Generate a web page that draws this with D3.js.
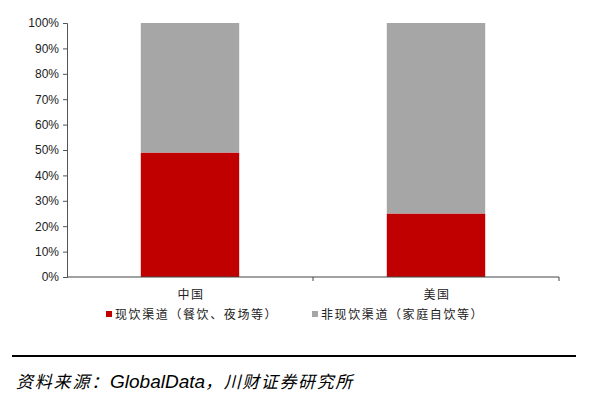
<!DOCTYPE html>
<html>
<head>
<meta charset="utf-8">
<script src="https://cdn.jsdelivr.net/npm/d3@7"></script>
<style>
  body { margin: 0; background: #fff; }
  svg { display: block; }
</style>
</head>
<body>
<svg id="chart"></svg>
<script>
const WIDTH = 592,
    HEIGHT = 396;

const categories = ['中国', '美国'];
const seriesNames = ['现饮渠道（餐饮、夜场等）', '非现饮渠道（家庭自饮等）'];
const onPremise = [0.49, 0.25];
const offPremise = [0.51, 0.75];
const yTicks = [0, 0.1, 0.2, 0.3, 0.4, 0.5, 0.6, 0.7, 0.8, 0.9, 1.0];
const colors = ['#C00000', '#A6A6A6'];

const margin = { left: 67, right: 33, top: 23, bottom: 119 };

const svg = d3.select('svg#chart')
    .attr('width', WIDTH)
    .attr('height', HEIGHT);

const x = d3.scaleBand()
    .domain(categories)
    .range([margin.left, WIDTH - margin.right])
    .paddingInner(0)
    .paddingOuter(0);

const y = d3.scaleLinear()
    .domain([0, 1])
    .range([HEIGHT - margin.bottom, margin.top]);

const rows = categories.map((c, i) => ({ cat: c, values: [onPremise[i], offPremise[i]] }));
const stacked = d3.stack()
    .keys([0, 1])
    .value((d, k) => d.values[k])(rows);

const barW = x.bandwidth() * 0.4;

svg.append('g')
    .selectAll('g')
    .data(stacked)
    .enter().append('g')
        .attr('fill', (d, i) => colors[i])
    .selectAll('rect')
    .data(d => d)
    .enter().append('rect')
        .attr('x', d => x(d.data.cat) + (x.bandwidth() - barW) / 2)
        .attr('y', d => y(d[1]))
        .attr('width', barW)
        .attr('height', d => y(d[0]) - y(d[1]));

// y axis
const yAxis = svg.append('g')
    .attr('transform', `translate(${margin.left},0)`)
    .call(d3.axisLeft(y).tickValues(yTicks).tickFormat(d3.format('.0%')).tickSizeOuter(0).tickSize(4));
yAxis.selectAll('text')
    .attr('font-family', 'Liberation Sans, Arial, sans-serif')
    .attr('font-size', 12)
    .attr('fill', '#222')
    .attr('x', -8);
yAxis.selectAll('line, path').attr('stroke', '#555');

// x axis
const xAxis = svg.append('g')
    .attr('transform', `translate(0,${y(0)})`);
xAxis.append('line')
    .attr('x1', margin.left).attr('x2', WIDTH - margin.right)
    .attr('stroke', '#444');
xAxis.selectAll('.tk')
    .data([categories[1], null])
    .enter().append('line')
        .attr('x1', d => d ? x(d) : WIDTH - margin.right)
        .attr('x2', d => d ? x(d) : WIDTH - margin.right)
        .attr('y1', 0).attr('y2', 4)
        .attr('stroke', '#444');
xAxis.selectAll('text')
    .data(categories)
    .enter().append('text')
        .attr('x', d => x(d) + x.bandwidth() / 2 + 1)
        .attr('y', 22)
        .attr('text-anchor', 'middle')
        .attr('font-family', 'Noto Sans CJK SC, sans-serif')
        .attr('font-size', 12)
        .attr('letter-spacing', 1.6)
        .attr('fill', '#222')
        .text(d => d);

// legend
const legendX = [106, 312];
const legend = svg.append('g')
    .selectAll('g')
    .data(seriesNames)
    .enter().append('g')
        .attr('transform', (d, i) => `translate(${legendX[i]},315)`);
legend.append('rect')
    .attr('x', 0).attr('y', -4)
    .attr('width', 6).attr('height', 6)
    .attr('fill', (d, i) => colors[i]);
legend.append('text')
    .attr('x', 9)
    .attr('y', 4)
    .attr('font-family', 'Noto Sans CJK SC, sans-serif')
    .attr('font-size', 12)
    .attr('letter-spacing', 1.6)
    .attr('fill', '#222')
    .text(d => d);

// footer
svg.append('line')
    .attr('x1', 12).attr('x2', 576)
    .attr('y1', 356).attr('y2', 356)
    .attr('stroke', '#000')
    .attr('stroke-width', 2);

const src = svg.append('text')
    .attr('x', 16)
    .attr('y', 388)
    .attr('font-style', 'italic')
    .attr('fill', '#000');
src.append('tspan').attr('font-family', 'Noto Sans CJK SC, sans-serif').attr('font-size', 17).attr('letter-spacing', 1.8).text('资料来源：');
src.append('tspan').attr('font-family', 'Liberation Sans, Arial, sans-serif').attr('font-size', 19).attr('letter-spacing', 0).text('GlobalData');
src.append('tspan').attr('font-family', 'Noto Sans CJK SC, sans-serif').attr('font-size', 17).attr('letter-spacing', 1.6).text('，川财证券研究所');
</script>
</body>
</html>
